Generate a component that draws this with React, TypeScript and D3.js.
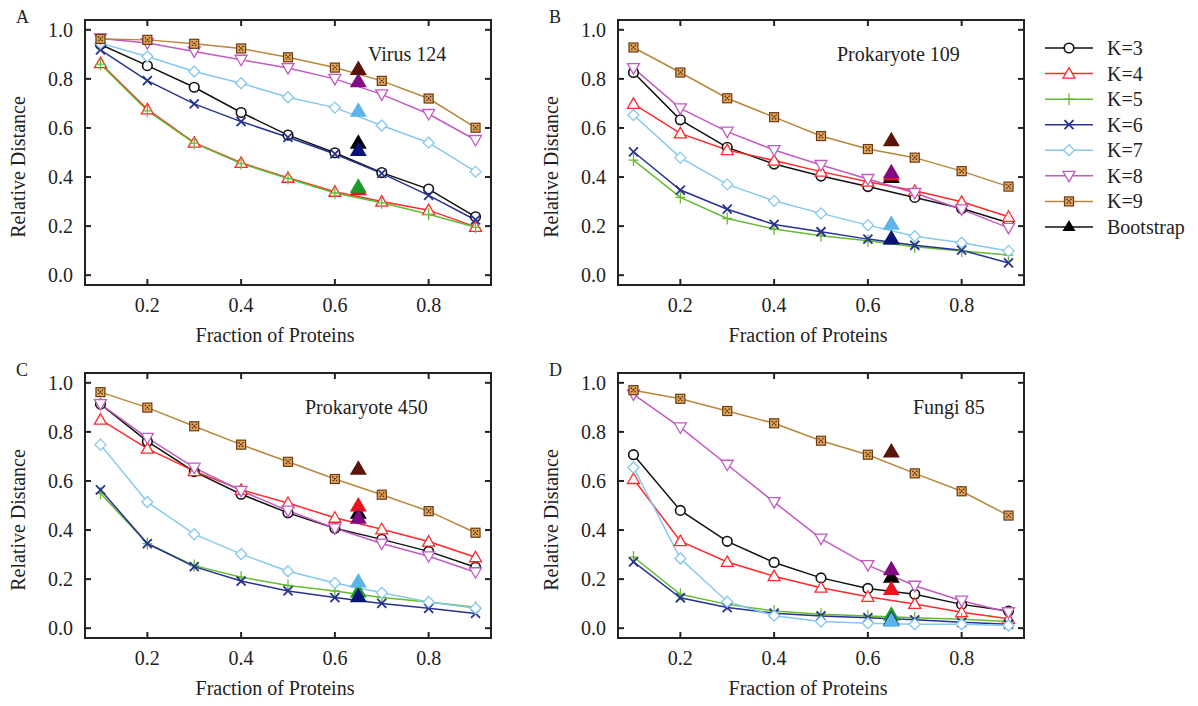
import React from 'react';
import * as d3 from 'd3';

// fractions of proteins sampled
const fractions = [0.1, 0.2, 0.3, 0.4, 0.5, 0.6, 0.7, 0.8, 0.9];
const seriesNames = ['K=3', 'K=4', 'K=5', 'K=6', 'K=7', 'K=8', 'K=9'];
const bootstrapX = 0.65;

// panel A - Virus 124
const virusK = [
  [0.94, 0.854, 0.766, 0.663, 0.571, 0.499, 0.418, 0.351, 0.238],
  [0.864, 0.676, 0.54, 0.458, 0.397, 0.34, 0.3, 0.265, 0.197],
  [0.86, 0.67, 0.538, 0.455, 0.394, 0.335, 0.295, 0.248, 0.195],
  [0.918, 0.793, 0.698, 0.626, 0.562, 0.494, 0.415, 0.325, 0.225],
  [0.945, 0.891, 0.83, 0.782, 0.725, 0.683, 0.61, 0.54, 0.422],
  [0.965, 0.946, 0.912, 0.878, 0.844, 0.8, 0.737, 0.657, 0.551],
  [0.963, 0.959, 0.943, 0.924, 0.888, 0.846, 0.792, 0.72, 0.601],
];
const virusBoot = [0.54, 0.35, 0.36, 0.51, 0.67, 0.79, 0.84];

// panel B - Prokaryote 109
const prok109K = [
  [0.826, 0.633, 0.521, 0.453, 0.404, 0.361, 0.317, 0.272, 0.214],
  [0.698, 0.578, 0.51, 0.467, 0.422, 0.381, 0.344, 0.299, 0.238],
  [0.469, 0.317, 0.231, 0.188, 0.161, 0.14, 0.116, 0.099, 0.082],
  [0.503, 0.347, 0.269, 0.207, 0.177, 0.147, 0.122, 0.102, 0.05],
  [0.653, 0.479, 0.37, 0.303, 0.252, 0.204, 0.159, 0.132, 0.099],
  [0.844, 0.68, 0.585, 0.51, 0.449, 0.392, 0.335, 0.268, 0.193],
  [0.928, 0.826, 0.721, 0.644, 0.567, 0.514, 0.479, 0.424, 0.361],
];
const prok109Boot = [0.4, 0.41, 0.15, 0.15, 0.21, 0.42, 0.55];

// panel C - Prokaryote 450
const prok450K = [
  [0.913, 0.761, 0.638, 0.546, 0.47, 0.407, 0.362, 0.313, 0.248],
  [0.85, 0.732, 0.64, 0.564, 0.51, 0.45, 0.403, 0.353, 0.289],
  [0.55, 0.345, 0.255, 0.208, 0.174, 0.152, 0.125, 0.107, 0.085],
  [0.564, 0.345, 0.251, 0.192, 0.152, 0.125, 0.101, 0.081, 0.06],
  [0.748, 0.514, 0.383, 0.302, 0.232, 0.184, 0.144, 0.107, 0.081],
  [0.913, 0.776, 0.654, 0.56, 0.479, 0.407, 0.345, 0.293, 0.228],
  [0.962, 0.899, 0.823, 0.748, 0.678, 0.608, 0.544, 0.477, 0.389],
];
const prok450Boot = [0.47, 0.5, 0.15, 0.13, 0.19, 0.45, 0.65];

// panel D - Fungi 85
const fungiK = [
  [0.707, 0.48, 0.354, 0.268, 0.205, 0.162, 0.138, 0.097, 0.07],
  [0.608, 0.355, 0.27, 0.212, 0.165, 0.128, 0.099, 0.065, 0.038],
  [0.29, 0.138, 0.097, 0.07, 0.057, 0.05, 0.043, 0.036, 0.027],
  [0.27, 0.124, 0.084, 0.061, 0.05, 0.043, 0.034, 0.024, 0.016],
  [0.655, 0.284, 0.108, 0.051, 0.027, 0.02, 0.016, 0.016, 0.011],
  [0.953, 0.818, 0.666, 0.514, 0.365, 0.257, 0.173, 0.112, 0.065],
  [0.97, 0.935, 0.885, 0.835, 0.764, 0.707, 0.631, 0.558, 0.459],
];
const fungiBoot = [0.21, 0.16, 0.055, 0.035, 0.03, 0.24, 0.72];

const xTicks = [0.2, 0.4, 0.6, 0.8];
const yTicks = [0, 0.2, 0.4, 0.6, 0.8, 1.0];

const lineColors = ['#111111', '#ff2a2a', '#66bb33', '#27338f', '#86c8ee', '#c25ac2', '#b8873a'];
const bootColors = ['#000000', '#e8141e', '#1e9a2a', '#0a1478', '#5cb4e8', '#800a80', '#5a140a'];
const markerKinds = ['circle', 'triUp', 'plus', 'cross', 'diamond', 'triDown', 'square'];

const panels = [
  { letter: 'A', title: 'Virus 124', k: virusK, boot: virusBoot, left: 85, top: 20, titleX: 368 },
  { letter: 'B', title: 'Prokaryote 109', k: prok109K, boot: prok109Boot, left: 618, top: 20, titleX: 837 },
  { letter: 'C', title: 'Prokaryote 450', k: prok450K, boot: prok450Boot, left: 85, top: 373, titleX: 305 },
  { letter: 'D', title: 'Fungi 85', k: fungiK, boot: fungiBoot, left: 618, top: 373, titleX: 913 },
];

const W = 406;
const H = 265;
const FONT = '"Liberation Serif", "Times New Roman", serif';

function Marker({ kind, x, y, color }: { kind: string; x: number; y: number; color: string }) {
  const sw = 1.3;
  if (kind === 'circle') return <circle cx={x} cy={y} r={4.8} fill="#fff" stroke={color} strokeWidth={1.6} />;
  if (kind === 'triUp')
    return <path d={`M${x},${y - 6}L${x + 6},${y + 4.5}L${x - 6},${y + 4.5}Z`} fill="#fff" stroke={color} strokeWidth={sw} />;
  if (kind === 'triDown')
    return <path d={`M${x},${y + 6}L${x + 6},${y - 4.5}L${x - 6},${y - 4.5}Z`} fill="#fff" stroke={color} strokeWidth={sw} />;
  if (kind === 'diamond')
    return <path d={`M${x},${y - 5.5}L${x + 5.5},${y}L${x},${y + 5.5}L${x - 5.5},${y}Z`} fill="#fff" stroke={color} strokeWidth={sw} />;
  if (kind === 'plus')
    return <path d={`M${x - 5},${y}H${x + 5}M${x},${y - 6}V${y + 6}`} stroke={color} strokeWidth={sw} />;
  if (kind === 'cross')
    return <path d={`M${x - 4.5},${y - 4.5}L${x + 4.5},${y + 4.5}M${x + 4.5},${y - 4.5}L${x - 4.5},${y + 4.5}`} stroke={color} strokeWidth={1.8} />;
  // K=9 patterned square
  return (
    <g>
      <rect x={x - 4.5} y={y - 4.5} width={9} height={9} fill="#e0a45a" stroke="#6a3a14" strokeWidth={1.2} />
      <path d={`M${x - 2.5},${y - 2.5}L${x + 2.5},${y + 2.5}M${x + 2.5},${y - 2.5}L${x - 2.5},${y + 2.5}`} stroke="#4a2408" strokeWidth={1.2} strokeDasharray="1.5,1" />
    </g>
  );
}

function Panel({ p }: { p: (typeof panels)[number] }) {
  const x = d3.scaleLinear().domain([0.067, 0.933]).range([p.left, p.left + W]);
  const y = d3.scaleLinear().domain([-0.04, 1.04]).range([p.top + H, p.top]);
  const line = d3
    .line<number>()
    .x((d, i) => x(fractions[i]))
    .y((d) => y(d));
  const tri = (cx: number, cy: number) => `M${cx},${cy - 8.5}L${cx + 8.5},${cy + 6}L${cx - 8.5},${cy + 6}Z`;

  return (
    <g fontFamily={FONT} fill="#222">
      <text x={p.left - 69} y={p.top + 3} fontSize={18}>{p.letter}</text>
      {p.k.map((vals, i) => (
        <path key={'l' + i} d={line(vals) || ''} fill="none" stroke={lineColors[i]} strokeWidth={1.5} />
      ))}
      {p.k.map((vals, i) => (
        <g key={'m' + i}>
          {vals.map((v, j) => (
            <Marker key={j} kind={markerKinds[i]} x={x(fractions[j])} y={y(v)} color={lineColors[i]} />
          ))}
        </g>
      ))}
      {p.boot.map((v, i) => (
        <path key={'b' + i} d={tri(x(bootstrapX), y(v))} fill={bootColors[i]} />
      ))}
      <rect x={p.left} y={p.top} width={W} height={H} fill="none" stroke="#222" strokeWidth={2} />
      {yTicks.map((t) => (
        <g key={'y' + t}>
          <line x1={p.left} x2={p.left + 6} y1={y(t)} y2={y(t)} stroke="#222" strokeWidth={2} />
          <line x1={p.left + W - 6} x2={p.left + W} y1={y(t)} y2={y(t)} stroke="#222" strokeWidth={2} />
          <text x={p.left - 12} y={y(t) + 7} fontSize={20} textAnchor="end">{d3.format('.1f')(t)}</text>
        </g>
      ))}
      {xTicks.map((t) => (
        <g key={'x' + t}>
          <line x1={x(t)} x2={x(t)} y1={p.top + H} y2={p.top + H - 6} stroke="#222" strokeWidth={2} />
          <line x1={x(t)} x2={x(t)} y1={p.top} y2={p.top + 6} stroke="#222" strokeWidth={2} />
          <text x={x(t)} y={p.top + H + 27} fontSize={20} textAnchor="middle">{d3.format('.1f')(t)}</text>
        </g>
      ))}
      <text x={p.titleX} y={p.top + 41} fontSize={20}>{p.title}</text>
      <text x={p.left + 190} y={p.top + H + 57} fontSize={20} textAnchor="middle">Fraction of Proteins</text>
      <text
        transform={`translate(${p.left - 60},${p.top + 147}) rotate(-90)`}
        fontSize={20}
        textAnchor="middle"
      >
        Relative Distance
      </text>
    </g>
  );
}

export default function App() {
  const legendY = d3.scaleLinear().domain([0, 7]).range([48, 227]);
  return (
    <svg width={1198} height={706} style={{ position: 'absolute', left: 0, top: 0, background: '#fff' }}>
      <rect width={1198} height={706} fill="#fff" />
      {panels.map((p) => (
        <Panel key={p.letter} p={p} />
      ))}
      <g fontFamily={FONT} fill="#222">
        {seriesNames.map((name, i) => (
          <g key={name}>
            <line x1={1045} x2={1093} y1={legendY(i)} y2={legendY(i)} stroke={lineColors[i]} strokeWidth={1.5} />
            <Marker kind={markerKinds[i]} x={1069} y={legendY(i)} color={lineColors[i]} />
            <text x={1107} y={legendY(i) + 7} fontSize={20}>{name}</text>
          </g>
        ))}
        <line x1={1045} x2={1093} y1={legendY(7)} y2={legendY(7)} stroke="#111" strokeWidth={1.5} />
        <path d={`M1069,${legendY(7) - 7}L1075.5,${legendY(7) + 4}L1062.5,${legendY(7) + 4}Z`} fill="#000" />
        <text x={1107} y={legendY(7) + 7} fontSize={20}>Bootstrap</text>
      </g>
    </svg>
  );
}
